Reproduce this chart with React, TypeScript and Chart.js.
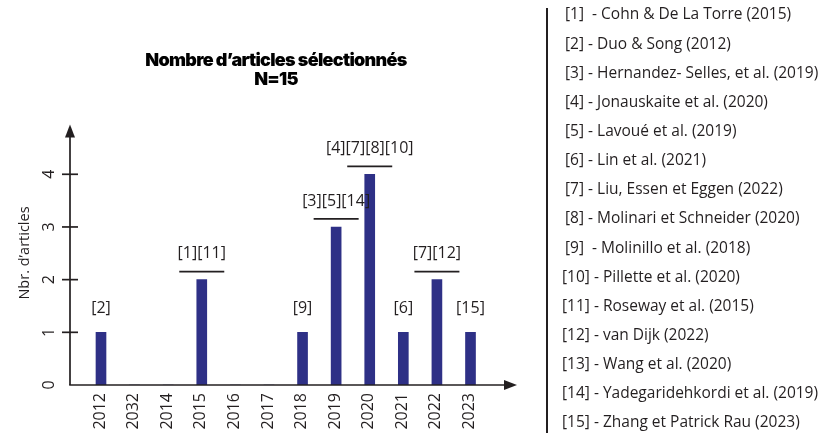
import React, { useEffect, useRef } from "react";
import { Chart, registerables } from "chart.js";

Chart.register(...registerables);

// ---- data ----
const years = ["2012", "2032", "2014", "2015", "2016", "2017", "2018", "2019", "2020", "2021", "2022", "2023"];
const articleCounts = [1, 0, 0, 2, 0, 0, 1, 3, 4, 1, 2, 1];
const barRefs = ["[2]", "", "", "[1][11]", "", "", "[9]", "[3][5][14]", "[4][7][8][10]", "[6]", "[7][12]", "[15]"];
const yTickValues = [0, 1, 2, 3, 4];
const titleLines = ["Nombre d’articles sélectionnés", "N=15"];
const yAxisTitle = "Nbr. d’articles";
const references = [
  "[1]  - Cohn & De La Torre (2015)",
  "[2] - Duo & Song (2012)",
  "[3] - Hernandez- Selles, et al. (2019)",
  "[4] - Jonauskaite et al. (2020)",
  "[5] - Lavoué et al. (2019)",
  "[6] - Lin et al. (2021)",
  "[7] - Liu, Essen et Eggen (2022)",
  "[8] - Molinari et Schneider (2020)",
  "[9]  - Molinillo et al. (2018)",
  "[10] - Pillette et al. (2020)",
  "[11] - Roseway et al. (2015)",
  "[12] - van Dijk (2022)",
  "[13] - Wang et al. (2020)",
  "[14] - Yadegaridehkordi et al. (2019)",
  "[15] - Zhang et Patrick Rau (2023)",
];

const INK = "#231f20";
const BAR = "#2e3086";
const LABEL_FONT = '"Open Sans", "Noto Sans", sans-serif';

const decorPlugin = {
  id: "decor",
  afterDraw(chart: any) {
    const ctx: CanvasRenderingContext2D = chart.ctx;
    const xs = chart.scales.x;
    const ys = chart.scales.y;
    const axisX = 70;
    const y0 = ys.getPixelForValue(0);
    const yTip = ys.getPixelForValue(ys.max) + 3;
    const xTip = 517;

    ctx.save();
    ctx.strokeStyle = INK;
    ctx.fillStyle = INK;
    ctx.lineWidth = 1.7;

    // y axis with arrow
    ctx.beginPath();
    ctx.moveTo(axisX, y0);
    ctx.lineTo(axisX, yTip + 10);
    ctx.stroke();
    ctx.beginPath();
    ctx.moveTo(axisX, yTip);
    ctx.lineTo(axisX - 5, yTip + 13);
    ctx.lineTo(axisX + 5, yTip + 13);
    ctx.closePath();
    ctx.fill();

    // x axis with arrow
    ctx.beginPath();
    ctx.moveTo(axisX - 0.8, y0);
    ctx.lineTo(xTip - 10, y0);
    ctx.stroke();
    ctx.beginPath();
    ctx.moveTo(xTip, y0);
    ctx.lineTo(xTip - 13, y0 - 5);
    ctx.lineTo(xTip - 13, y0 + 5);
    ctx.closePath();
    ctx.fill();

    // y ticks and rotated labels
    ctx.font = `16px ${LABEL_FONT}`;
    ctx.textAlign = "center";
    ctx.textBaseline = "middle";
    yTickValues.forEach((v) => {
      const py = ys.getPixelForValue(v);
      if (v > 0) {
        ctx.beginPath();
        ctx.moveTo(62, py);
        ctx.lineTo(78, py);
        ctx.stroke();
      }
      ctx.save();
      ctx.translate(49, py);
      ctx.rotate(-Math.PI / 2);
      ctx.fillText(String(v), 0, 0);
      ctx.restore();
    });

    // y axis title
    ctx.save();
    ctx.font = `14.5px ${LABEL_FONT}`;
    ctx.translate(25, 253);
    ctx.rotate(-Math.PI / 2);
    ctx.fillText(yAxisTitle, 0, 0);
    ctx.restore();

    // x tick labels (rotated)
    ctx.font = `16px ${LABEL_FONT}`;
    years.forEach((lab, i) => {
      const px = xs.getPixelForValue(i);
      ctx.save();
      ctx.translate(px - 1, 393);
      ctx.rotate(-Math.PI / 2);
      ctx.textAlign = "right";
      ctx.textBaseline = "middle";
      ctx.fillText(lab, 0, 0);
      ctx.restore();
    });

    // reference annotations above bars
    ctx.font = `16px ${LABEL_FONT}`;
    ctx.textAlign = "center";
    ctx.textBaseline = "middle";
    barRefs.forEach((txt, i) => {
      if (!txt) return;
      const px = xs.getPixelForValue(i);
      const top = ys.getPixelForValue(articleCounts[i]);
      const n = (txt.match(/\[/g) || []).length;
      if (n > 1) {
        const ly = top - 8;
        ctx.beginPath();
        ctx.moveTo(px - 22.5, ly);
        ctx.lineTo(px + 22.5, ly);
        ctx.stroke();
        ctx.fillText(txt, px, ly - 18);
      } else {
        ctx.fillText(txt, px, top - 24);
      }
    });

    // title
    ctx.font = `900 18px Inter, "Noto Sans", sans-serif`;
    (ctx as any).letterSpacing = "-0.7px";
    ctx.textAlign = "center";
    ctx.textBaseline = "alphabetic";
    ctx.fillStyle = "#000";
    ctx.fillText(titleLines[0], 276, 66);
    ctx.fillText(titleLines[1], 276, 85);
    (ctx as any).letterSpacing = "0px";
    ctx.fillStyle = INK;

    // reference list on the right
    ctx.fillRect(546, 8, 2, 425);
    ctx.font = `15.5px ${LABEL_FONT}`;
    ctx.textAlign = "left";
    ctx.textBaseline = "middle";
    references.forEach((r, i) => {
      const num = parseInt(r.slice(1), 10);
      const lx = num < 10 ? 565 : 562;
      ctx.fillText(r, lx, 15 + i * 29.14);
    });

    ctx.restore();
  },
};

export default function App() {
  const canvasRef = useRef<HTMLCanvasElement | null>(null);

  useEffect(() => {
    document.body.style.margin = "0";
    const canvas = canvasRef.current;
    if (!canvas) return;
    const chart = new Chart(canvas, {
      type: "bar",
      data: {
        labels: years,
        datasets: [
          {
            label: "Nbr. d’articles",
            data: articleCounts,
            backgroundColor: BAR,
            borderWidth: 0,
            barThickness: 10,
          },
        ],
      },
      options: {
        responsive: false,
        devicePixelRatio: 1,
        animation: false,
        layout: { padding: { left: 84.2, right: 339.7, top: 121.6, bottom: 48 } },
        scales: {
          x: { type: "category", display: false, offset: true },
          y: { display: false, min: 0, max: 5 },
        },
        plugins: {
          legend: { display: false },
          title: { display: false },
          tooltip: { enabled: false },
        },
      },
      plugins: [decorPlugin],
    });
    let alive = true;
    Promise.all([
      document.fonts.load('16px "Open Sans"'),
      document.fonts.load("900 18px Inter"),
    ])
      .catch(() => undefined)
      .then(() => {
        if (alive) chart.draw();
      });
    return () => {
      alive = false;
      chart.destroy();
    };
  }, []);

  return (
    <div style={{ width: 827, height: 433, background: "#fff" }}>
      <canvas ref={canvasRef} width={827} height={433} style={{ display: "block" }} />
    </div>
  );
}
